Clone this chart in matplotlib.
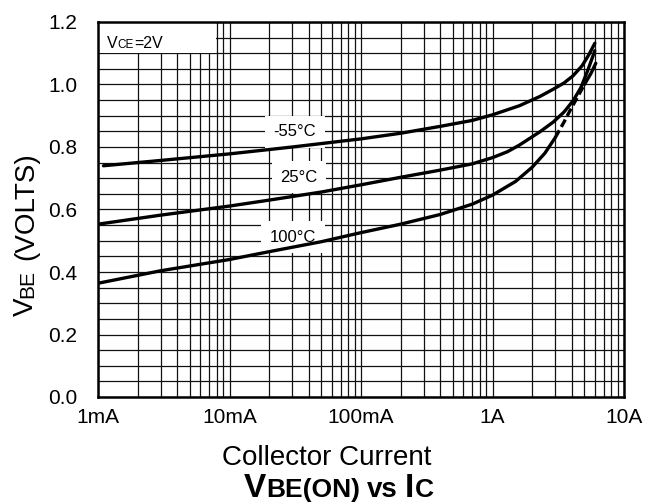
import matplotlib
matplotlib.use('Agg')
import matplotlib.pyplot as plt
from matplotlib.ticker import FixedLocator, LogLocator, MultipleLocator, NullFormatter
from matplotlib.transforms import IdentityTransform
from matplotlib.patches import Rectangle

plt.rcParams['font.family'] = ['Liberation Sans', 'DejaVu Sans']

# collector current (A) and VBE (V)
ic_m55 = [1.1e-3, 3e-3, 1e-2, 3e-2, 0.1, 0.2, 0.4, 0.7, 1.0, 1.6, 2.3, 2.9, 3.5, 4.1, 4.8, 5.4, 6.0]
vbe_m55 = [0.740, 0.757, 0.778, 0.800, 0.826, 0.844, 0.866, 0.885, 0.903, 0.932, 0.962, 0.985, 1.005, 1.028, 1.060, 1.095, 1.132]

ic_25 = [1e-3, 3e-3, 1e-2, 2e-2, 5e-2, 0.1, 0.2, 0.4, 0.7, 1.0, 1.3, 1.6, 2.3, 2.9, 3.5, 4.1, 4.7, 5.3, 6.0]
vbe_25 = [0.553, 0.582, 0.611, 0.630, 0.656, 0.679, 0.703, 0.726, 0.746, 0.766, 0.785, 0.806, 0.849, 0.880, 0.912, 0.948, 0.990, 1.045, 1.108]

ic_100 = [1e-3, 3e-3, 1e-2, 2e-2, 5e-2, 0.1, 0.2, 0.4, 0.7, 1.0, 1.5, 2.0, 2.5, 3.0, 3.5, 3.9, 4.5, 5.0, 5.6, 6.1]
vbe_100 = [0.364, 0.404, 0.440, 0.465, 0.497, 0.526, 0.553, 0.584, 0.617, 0.646, 0.690, 0.735, 0.780, 0.830, 0.880, 0.918, 0.965, 1.000, 1.035, 1.068]

labels = ['-55°C', '25°C', '100°C']
label_ic = [0.0315, 0.0338, 0.0304]
label_v = [0.848, 0.704, 0.512]

xtick_vals = [1e-3, 1e-2, 1e-1, 1, 10]
xtick_labels = ['1mA', '10mA', '100mA', '1A', '10A']

W, H = 650, 504
fig = plt.figure(figsize=(W / 100, H / 100), dpi=100)
ax = fig.add_axes([98 / W, 107 / H, 526 / W, 375 / H])

ax.set_xscale('log')
ax.set_xlim(1e-3, 10)
ax.set_ylim(0, 1.2)
ax.xaxis.set_major_locator(FixedLocator(xtick_vals))
ax.set_xticklabels(xtick_labels)
ax.xaxis.set_minor_locator(LogLocator(base=10, subs=range(2, 10)))
ax.xaxis.set_minor_formatter(NullFormatter())
ax.yaxis.set_major_locator(MultipleLocator(0.2))
ax.yaxis.set_minor_locator(MultipleLocator(0.05))
ax.yaxis.set_major_formatter(lambda v, p: '%.1f' % v)
ax.grid(True, which='both', color='#111111', linewidth=0.9)
ax.tick_params(which='both', length=0, labelsize=15)
ax.tick_params(axis='y', pad=15)
ax.tick_params(axis='x', pad=8)
for s in ax.spines.values():
    s.set_linewidth(1.8)

# white box behind the VCE note
ax.add_patch(Rectangle((1e-3, 1.102), 6.9e-3, 0.098, facecolor='white',
                       edgecolor='none', zorder=2))

kw = dict(color='black', lw=2.4, solid_capstyle='round', solid_joinstyle='round', zorder=3)
ax.plot(ic_m55, vbe_m55, **kw)
ax.plot(ic_25, vbe_25, **kw)
ax.plot(ic_100[:14], vbe_100[:14], **kw)
ax.plot(ic_100[13:18], vbe_100[13:18], color='black', lw=2.4, ls=(0, (2.5, 1.2)), zorder=3)
ax.plot(ic_100[17:], vbe_100[17:], **kw)

for lab, x, y in zip(labels, label_ic, label_v):
    ax.text(x, y, lab, fontsize=12, ha='center', va='center', zorder=2.6,
            bbox=dict(boxstyle='square,pad=0.5', facecolor='white', edgecolor='none'))


def mixed_text(cx, cy, parts, rotation=0):
    # parts: (text, size, weight, gap after in px); cx, cy in px from top-left
    r = fig.canvas.get_renderer()
    items = []
    total = 0
    for s, size, weight, gap in parts:
        t = fig.text(0, 0, s, fontsize=size, fontweight=weight, ha='left',
                     va='baseline', rotation=rotation, rotation_mode='anchor',
                     transform=IdentityTransform())
        bb = t.get_window_extent(r)
        items.append((t, total))
        total += (bb.height if rotation else bb.width) + gap
    for t, off in items:
        if rotation:
            t.set_position((cx, H - cy - total / 2 + off))
        else:
            t.set_position((cx - total / 2 + off, H - cy))


mixed_text(135, 48, [('V', 11.5, 'normal', 0), ('CE', 8.5, 'normal', 0),
                     ('=2V', 11.5, 'normal', 0)])
mixed_text(33, 234, [('V', 20, 'normal', 0), ('BE', 15, 'normal', 10),
                     ('(VOLTS)', 20, 'normal', 0)], rotation=90)
fig.text(327 / W, (H - 465) / H, 'Collector Current', fontsize=20,
         ha='center', va='baseline')
mixed_text(339, 497, [('V', 24, 'bold', 0), ('BE(ON)', 19, 'bold', 7),
                      ('vs', 20, 'bold', 7), ('I', 24, 'bold', 1),
                      ('C', 19, 'bold', 0)])

fig.savefig('out.png', dpi=100)
